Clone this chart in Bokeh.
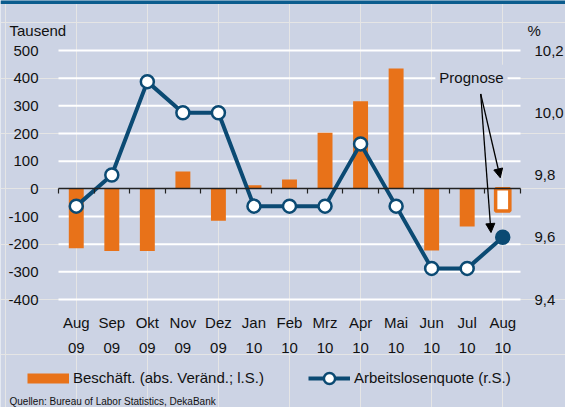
from bokeh.plotting import figure
from bokeh.models import (Range1d, LinearAxis, FixedTicker, CustomJSTickFormatter,
                          Legend, LegendItem, Label, Arrow, NormalHead, BoxAnnotation)
from bokeh.embed import file_html
from bokeh.resources import INLINE

# ---- data ----
months = ["Aug", "Sep", "Okt", "Nov", "Dez", "Jan", "Feb", "Mrz", "Apr", "Mai", "Jun", "Jul", "Aug"]
years = ["09", "09", "09", "09", "09", "10", "10", "10", "10", "10", "10", "10", "10"]
employment = [-215, -225, -225, 63, -115, 13, 34, 203, 317, 435, -223, -136]   # Tausend, actual
employment_forecast = [-80]                                                     # Aug 10 forecast
unemployment = [9.7, 9.8, 10.1, 10.0, 10.0, 9.7, 9.7, 9.7, 9.9, 9.7, 9.5, 9.5, 9.6]  # %
left_ticks = [-400, -300, -200, -100, 0, 100, 200, 300, 400, 500]
right_ticks = [9.4, 9.6, 9.8, 10.0, 10.2]

BG = "#CCD3E4"
ORANGE = "#E87219"
BLUE = "#0B4A73"
TXT = "#111111"
FONT = "Liberation Sans"

W, H = 565, 407
# plot-area placement inside the canvas (pixels)
PL, PR, PT, PB = 58, 45, 50, 108

n = len(months)
idx = list(range(n))
x0, x1 = -0.5, n - 0.5
ylo, yhi = left_ticks[0], left_ticks[-1]
rlo, rhi = right_ticks[0], right_ticks[-1]
pxx = (W - PL - PR) / (x1 - x0)
pxy = (H - PT - PB) / (yhi - ylo)
r_per_l = (rhi - rlo) / (yhi - ylo)

p = figure(width=W, height=H, output_backend="svg", toolbar_location=None,
           x_axis_location=None, y_axis_location=None,
           x_range=Range1d(x0 - PL / pxx, x1 + PR / pxx),
           y_range=Range1d(ylo - PB / pxy, yhi + PT / pxy),
           min_border=0)
p.extra_y_ranges = {"rate": Range1d(rlo - (PB / pxy) * r_per_l, rhi + (PT / pxy) * r_per_l)}
p.background_fill_color = BG
p.border_fill_color = BG
p.outline_line_color = None

# horizontal grid lines (white), limited to the plot area
grid_vals = [t for t in left_ticks if t != 0]
p.segment(x0=[x0] * len(grid_vals), x1=[x1] * len(grid_vals), y0=grid_vals, y1=grid_vals,
          line_color="white", line_width=2)

# left axis
la = LinearAxis(fixed_location=x0, ticker=FixedTicker(ticks=left_ticks),
                formatter=CustomJSTickFormatter(code="return tick.toFixed(0);"))
la.major_tick_line_color = None
la.minor_tick_line_color = None
la.axis_line_color = None
la.major_label_standoff = 14
la.major_label_text_font = FONT
la.major_label_text_font_size = "15px"
la.major_label_text_color = TXT
p.add_layout(la, "left")

# right axis
ra = LinearAxis(fixed_location=x1, y_range_name="rate", ticker=FixedTicker(ticks=right_ticks),
                formatter=CustomJSTickFormatter(code="return tick.toFixed(1).replace('.', ',');"))
ra.major_tick_line_color = None
ra.minor_tick_line_color = None
ra.axis_line_color = None
ra.major_label_standoff = 8
ra.major_label_text_font = FONT
ra.major_label_text_font_size = "15px"
ra.major_label_text_color = TXT
p.add_layout(ra, "right")

# zero line with tick marks between the months
za = LinearAxis(fixed_location=0, bounds=(x0, x1),
                ticker=FixedTicker(ticks=[i - 0.5 for i in range(n + 1)]))
za.axis_line_color = "#222222"
za.axis_line_width = 1.5
za.major_tick_line_color = "#222222"
za.major_tick_line_width = 1.2
za.major_tick_in = 0
za.major_tick_out = 5
za.minor_tick_line_color = None
za.major_label_text_color = None
p.add_layout(za, "below")

# month labels
xa = LinearAxis(fixed_location=ylo, ticker=FixedTicker(ticks=idx))
xa.major_label_overrides = {i: f"{months[i]}\n{years[i]}" for i in idx}
xa.major_tick_line_color = None
xa.minor_tick_line_color = None
xa.axis_line_color = None
xa.major_label_standoff = 8
xa.major_label_text_font = FONT
xa.major_label_text_font_size = "15px"
xa.major_label_text_line_height = 1.5
xa.major_label_text_color = TXT
p.add_layout(xa, "below")

# bars
p.vbar(x=idx[:-1], top=employment, bottom=0, width=0.42, fill_color=ORANGE, line_color=None)
p.vbar(x=idx[-1:], top=employment_forecast, bottom=0, width=0.4,
       fill_color="white", line_color=ORANGE, line_width=3.5)

# unemployment line
line = p.line(idx, unemployment, y_range_name="rate", line_color=BLUE, line_width=4)
pts = p.scatter(idx[:-1], unemployment[:-1], y_range_name="rate", size=13,
                fill_color="white", line_color=BLUE, line_width=2.5)
p.scatter(idx[-1:], unemployment[-1:], y_range_name="rate", size=13,
          fill_color=BLUE, line_color=BLUE, line_width=2.5)

# legend proxy for the bars (thick orange stroke, no visible data)
nan = float("nan")
bar_key = p.line(x=[nan, nan], y=[nan, nan], line_color=ORANGE, line_width=10, line_cap="butt")

# annotations
p.add_layout(Label(x=11.12, y=358, text="Prognose", text_align="center",
                   text_font=FONT, text_font_size="15px", text_color=TXT,
                   background_fill_color=BG, padding=4))
p.add_layout(Arrow(end=NormalHead(size=9, fill_color="black", line_color="black"),
                   x_start=11.38, y_start=343, x_end=11.93, y_end=40,
                   line_color="black", line_width=1.3))
p.add_layout(Arrow(end=NormalHead(size=9, fill_color="black", line_color="black"),
                   x_start=11.38, y_start=343, x_end=11.67, y_end=-158,
                   line_color="black", line_width=1.3))

p.add_layout(Label(x=9, y=H - 30, x_units="screen", y_units="screen", text="Tausend",
                   text_baseline="alphabetic",
                   text_font=FONT, text_font_size="15px", text_color=TXT))
p.add_layout(Label(x=527, y=H - 30, x_units="screen", y_units="screen", text="%",
                   text_baseline="alphabetic",
                   text_font=FONT, text_font_size="15px", text_color=TXT))
p.add_layout(Label(x=9, y=1, x_units="screen", y_units="screen",
                   text="Quellen: Bureau of Labor Statistics, DekaBank",
                   text_baseline="bottom",
                   text_font=FONT, text_font_size="10px", text_color=TXT))

# top band
p.add_layout(BoxAnnotation(left=0, right=W, top=H + 5, bottom=H - 3.5,
                           left_units="screen", right_units="screen",
                           top_units="screen", bottom_units="screen",
                           fill_color="#0B5C8E", fill_alpha=1, line_color=None))

# legend
leg = Legend(items=[LegendItem(label="Beschäft. (abs. Veränd.; l.S.)", renderers=[bar_key]),
                    LegendItem(label="Arbeitslosenquote (r.S.)", renderers=[line, pts])],
             location=(27, H - 391.5), orientation="horizontal",
             glyph_width=42, glyph_height=28, label_height=14, label_width=235,
             label_standoff=4, spacing=0,
             padding=0, margin=0, border_line_color=None, background_fill_alpha=0,
             label_text_font=FONT, label_text_font_size="15px", label_text_color=TXT)
p.add_layout(leg, "center")

open("out.html", "w").write(file_html(p, INLINE))
